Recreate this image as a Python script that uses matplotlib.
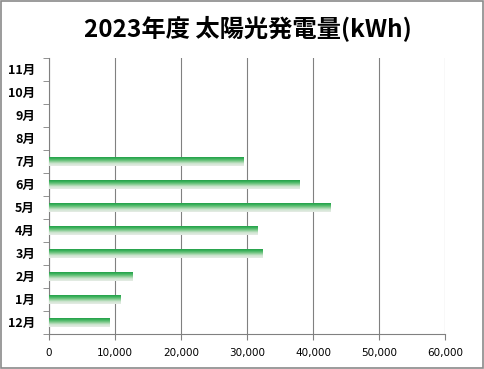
import numpy as np
import matplotlib
matplotlib.use("Agg")
import matplotlib.pyplot as plt
from matplotlib.colors import LinearSegmentedColormap
from matplotlib.patches import Rectangle

plt.rcParams['font.family'] = ['Noto Sans CJK JP', 'DejaVu Sans']

# Data (kWh per month, FY2023)
months = ["12月", "1月", "2月", "3月", "4月", "5月", "6月", "7月", "8月", "9月", "10月", "11月"]
energy = [9200, 10800, 12650, 32400, 31600, 42700, 38000, 29450, 0, 0, 0, 0]
x_ticks = [0, 10000, 20000, 30000, 40000, 50000, 60000]

fig = plt.figure(figsize=(4.85, 3.69), dpi=100)
ax = fig.add_axes([0.101, 0.095, 0.8165, 0.748])

# vertical gradient for bars: dark green top -> pale bottom
cmap = LinearSegmentedColormap.from_list(
    "barfade", ["#1a9642", "#36b058", "#7cc98a", "#cfe4d0", "#e6ece6"])
grad = np.linspace(0, 1, 64).reshape(-1, 1)

bar_h = 0.42
for i, v in enumerate(energy):
    if v <= 0:
        continue
    im = ax.imshow(grad, cmap=cmap, aspect="auto", interpolation="bilinear",
                   extent=[0, v, i - bar_h / 2, i + bar_h / 2], origin="upper", zorder=3)
    clip = Rectangle((0, i - bar_h / 2), v, bar_h, transform=ax.transData)
    im.set_clip_path(clip)

ax.set_xlim(0, 60000)
ax.set_ylim(-0.5, len(months) - 0.5)

ax.set_xticks(x_ticks)
ax.set_xticklabels([f"{t:,}" for t in x_ticks], fontsize=7.5, family="DejaVu Sans")
ax.set_yticks(range(len(months)))
ax.set_yticklabels(months, fontsize=9, fontweight="bold")
ax.set_yticks(np.arange(-0.5, len(months), 1), minor=True)
ax.tick_params(axis="y", which="major", length=0, pad=10)
ax.tick_params(axis="y", which="minor", length=4, color="#808080")
ax.tick_params(axis="x", length=4, color="#808080", pad=6)

ax.grid(axis="x", color="#808080", linewidth=0.8, zorder=0)
ax.set_axisbelow(True)
for s in ["top", "right"]:
    ax.spines[s].set_visible(False)
for s in ["left", "bottom"]:
    ax.spines[s].set_color("#808080")
    ax.spines[s].set_linewidth(0.8)

fig.text(0.512, 0.925, "2023年度 太陽光発電量(kWh)", ha="center", va="center",
         fontsize=17.5, fontweight="bold")

# outer chart border
fig.patches.append(Rectangle((0.003, 0.004), 0.992, 0.992, transform=fig.transFigure,
                             fill=False, edgecolor="#8a8a8a", linewidth=1.2))

fig.savefig("out.png", dpi=100)
